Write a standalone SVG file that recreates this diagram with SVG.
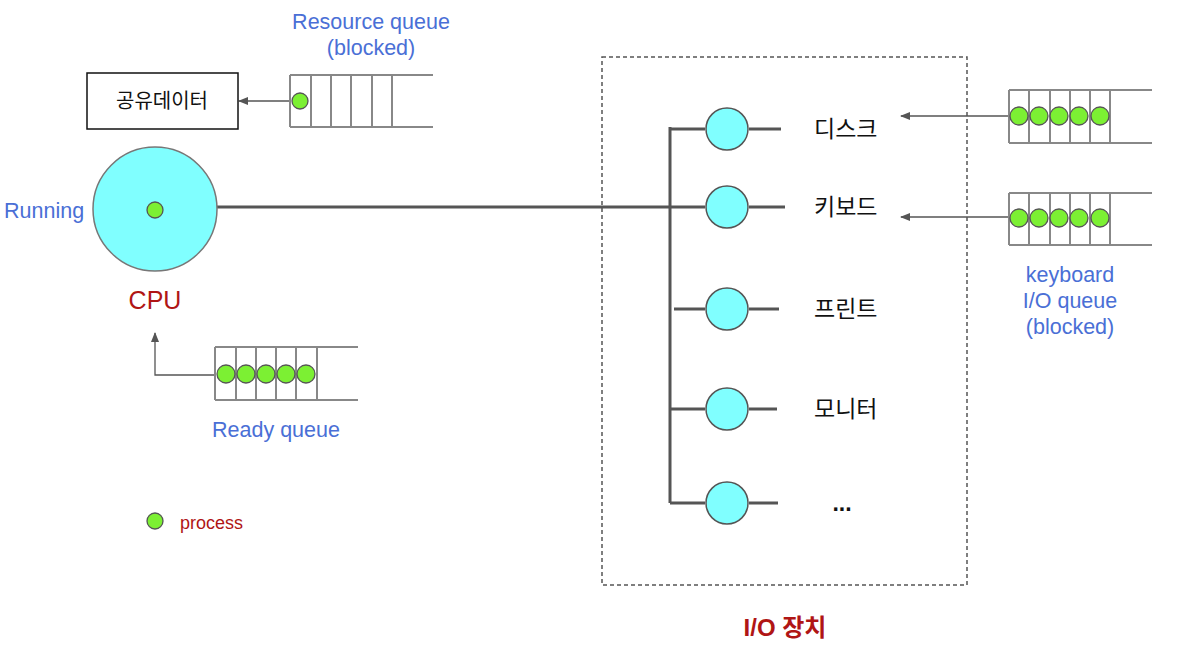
<svg xmlns="http://www.w3.org/2000/svg" width="1183" height="649" viewBox="0 0 1183 649">
<style>
text{font-family:"Liberation Sans","Noto Sans CJK KR",sans-serif}
.blue{fill:#4a6fd6;font-size:21.5px}
.red{fill:#b01515}
.ko{fill:#111;font-size:23px}
.q{stroke:#888;stroke-width:2;fill:none}
.dot{fill:#7cf033;stroke:#555;stroke-width:1.3}
.dev{fill:#80ffff;stroke:#555;stroke-width:1.5}
.bus{stroke:#555;stroke-width:3;fill:none}
.arr{stroke:#555;stroke-width:1.3;fill:none;marker-end:url(#ah)}
</style>
<defs>
<marker id="ah" markerWidth="10" markerHeight="8" refX="9" refY="4" orient="auto" markerUnits="userSpaceOnUse">
<path d="M0,0 L10,4 L0,8 Z" fill="#555"/>
</marker>
</defs>
<rect width="1183" height="649" fill="#fff"/>

<g id="connectors">
<path class="bus" d="M217,207 H705"/>
<path class="bus" d="M670,127 V503"/>
<path class="bus" d="M670,129 H705 M749,129 H781"/>
<path class="bus" d="M749,207 H785"/>
<path class="bus" d="M674,309 H705 M749,309 H779"/>
<path class="bus" d="M670,409 H705 M749,409 H777"/>
<path class="bus" d="M670,503 H705 M749,503 H778"/>
<path class="arr" d="M290,101 H239"/>
<path class="arr" d="M215,375 H155 V333"/>
<path class="arr" d="M1009,116 H901"/>
<path class="arr" d="M1009,217 H901"/>
</g>

<g id="cpu">
<circle cx="155" cy="209" r="62" fill="#80ffff" stroke="#777" stroke-width="1.5"/>
<circle class="dot" cx="155" cy="210" r="8"/>
<text x="4" y="218" class="blue">Running</text>
<text x="155" y="309" text-anchor="middle" class="red" font-size="25">CPU</text>
</g>

<g id="shared-data">
<rect x="87" y="73" width="151" height="56" fill="#fff" stroke="#111" stroke-width="1.5"/>
<text x="162" y="108" text-anchor="middle" fill="#111" font-size="20">공유데이터</text>
</g>

<g id="resource-queue">
<path class="q" d="M290,75 H433 M290,127 H433 M290,75 V127 M311,75 V127 M331,75 V127 M351,75 V127 M372,75 V127 M392,75 V127"/>
<circle class="dot" cx="300" cy="101" r="8"/>
<text x="371" y="29" text-anchor="middle" class="blue">Resource queue</text>
<text x="371" y="55" text-anchor="middle" class="blue">(blocked)</text>
</g>

<g id="ready-queue">
<path class="q" d="M215,347 H358 M215,400 H358 M215,347 V400 M236,347 V400 M256,347 V400 M276,347 V400 M296,347 V400 M317,347 V400"/>
<circle class="dot" cx="226" cy="374" r="9"/>
<circle class="dot" cx="246" cy="374" r="9"/>
<circle class="dot" cx="266" cy="374" r="9"/>
<circle class="dot" cx="286" cy="374" r="9"/>
<circle class="dot" cx="306" cy="374" r="9"/>
<text x="276" y="437" text-anchor="middle" class="blue">Ready queue</text>
</g>

<g id="legend">
<circle class="dot" cx="155" cy="521" r="8"/>
<text x="180" y="529" class="red" font-size="18">process</text>
</g>

<g id="io-box">
<rect x="602" y="57" width="365" height="528" fill="none" stroke="#555" stroke-width="1.5" stroke-dasharray="4,3"/>
<text x="785" y="636" text-anchor="middle" class="red" font-size="24" font-weight="bold">I/O 장치</text>
</g>

<g id="disk">
<circle class="dev" cx="727" cy="129" r="21"/>
<text x="814" y="137" class="ko">디스크</text>
</g>
<g id="keyboard">
<circle class="dev" cx="727" cy="207" r="21"/>
<text x="814" y="215" class="ko">키보드</text>
</g>
<g id="printer">
<circle class="dev" cx="727" cy="309" r="21"/>
<text x="814" y="317" class="ko">프린트</text>
</g>
<g id="monitor">
<circle class="dev" cx="727" cy="409" r="21"/>
<text x="814" y="417" class="ko">모니터</text>
</g>
<g id="etc">
<circle class="dev" cx="727" cy="503" r="21"/>
<text x="842" y="511" text-anchor="middle" class="ko" font-weight="bold">...</text>
</g>

<g id="disk-queue">
<path class="q" d="M1009,90 H1152 M1009,143 H1152 M1009,90 V143 M1029,90 V143 M1050,90 V143 M1070,90 V143 M1090,90 V143 M1110,90 V143"/>
<circle class="dot" cx="1019" cy="116" r="9"/>
<circle class="dot" cx="1039" cy="116" r="9"/>
<circle class="dot" cx="1059" cy="116" r="9"/>
<circle class="dot" cx="1079" cy="116" r="9"/>
<circle class="dot" cx="1100" cy="116" r="9"/>
</g>

<g id="keyboard-queue">
<path class="q" d="M1009,193 H1152 M1009,245 H1152 M1009,193 V245 M1029,193 V245 M1050,193 V245 M1070,193 V245 M1090,193 V245 M1110,193 V245"/>
<circle class="dot" cx="1019" cy="218" r="9"/>
<circle class="dot" cx="1039" cy="218" r="9"/>
<circle class="dot" cx="1059" cy="218" r="9"/>
<circle class="dot" cx="1079" cy="218" r="9"/>
<circle class="dot" cx="1100" cy="218" r="9"/>
<text x="1070" y="282" text-anchor="middle" class="blue">keyboard</text>
<text x="1070" y="308" text-anchor="middle" class="blue">I/O queue</text>
<text x="1070" y="334" text-anchor="middle" class="blue">(blocked)</text>
</g>
</svg>
